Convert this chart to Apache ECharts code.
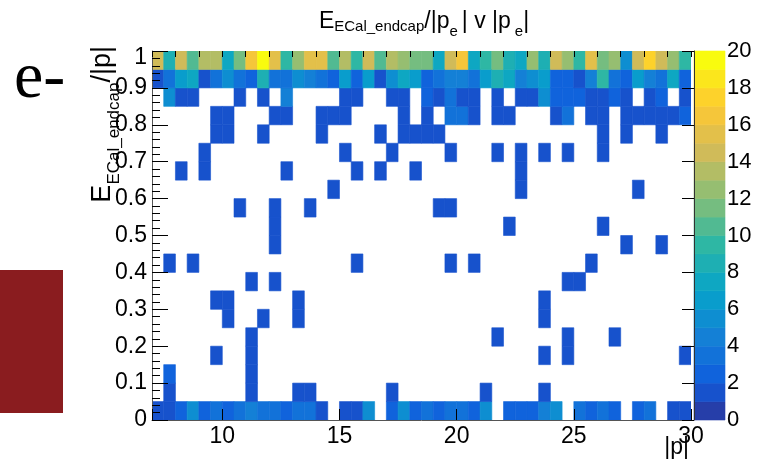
<!DOCTYPE html>
<html><head><meta charset="utf-8">
<script src="https://cdn.jsdelivr.net/npm/echarts@6/dist/echarts.min.js"></script>
<style>html,body{margin:0;padding:0;background:#fff}#c{width:764px;height:459px}</style>
</head><body><div id="c"></div>
<script>
// bin edges
const pEdges = [7,7.5,8,8.5,9,9.5,10,10.5,11,11.5,12,12.5,13,13.5,14,14.5,15,15.5,16,16.5,17,17.5,18,18.5,19,19.5,20,20.5,21,21.5,22,22.5,23,23.5,24,24.5,25,25.5,26,26.5,27,27.5,28,28.5,29,29.5,30];
const ratioEdges = [0,0.05,0.1,0.15,0.2,0.25,0.3,0.35,0.4,0.45,0.5,0.55,0.6,0.65,0.7,0.75,0.8,0.85,0.9,0.95,1];
// counts per |p| bin, one array per E/|p| row (named by lower edge)
const cnt000 = [1,1,2,5,2,3,2,3,4,3, 3,2,3,3,1,0,1,1,5,0, 2,5,2,3,2,3,3,2,5,0, 2,2,2,4,5,0,3,2,3,2, 0,2,3,0,1,1];
const cnt005 = [0,1,0,0,0,0,0,0,1,0, 0,0,1,1,0,0,0,0,0,0, 1,0,0,0,0,0,0,0,1,0, 0,0,0,1,0,0,0,0,0,0, 0,0,0,0,0,0];
const cnt010 = [0,2,0,0,0,0,0,0,1,0, 0,0,0,0,0,0,0,0,0,0, 0,0,0,0,0,0,0,0,0,0, 0,0,0,0,0,0,0,0,0,0, 0,0,0,0,0,0];
const cnt015 = [0,0,0,0,0,1,0,0,1,0, 0,0,0,0,0,0,0,0,0,0, 0,0,0,0,0,0,0,0,0,0, 0,0,0,1,0,1,0,0,0,0, 0,0,0,0,0,1];
const cnt020 = [0,0,0,0,0,0,0,0,1,0, 0,0,0,0,0,0,0,0,0,0, 0,0,0,0,0,0,0,0,0,1, 0,0,0,0,0,1,0,0,0,1, 0,0,0,0,0,0];
const cnt025 = [0,0,0,0,0,0,1,0,0,1, 0,0,1,0,0,0,0,0,0,0, 0,0,0,0,0,0,0,0,0,0, 0,0,0,1,0,0,0,0,0,0, 0,0,0,0,0,0];
const cnt030 = [0,0,0,0,0,1,1,0,0,0, 0,0,1,0,0,0,0,0,0,0, 0,0,0,0,0,0,0,0,0,0, 0,0,0,1,0,0,0,0,0,0, 0,0,0,0,0,0];
const cnt035 = [0,0,0,0,0,0,0,0,1,0, 1,0,0,0,0,0,0,0,0,0, 0,0,0,0,0,0,0,0,0,0, 0,0,0,0,0,1,1,0,0,0, 0,0,0,0,0,0];
const cnt040 = [0,1,0,1,0,0,0,0,0,0, 0,0,0,0,0,0,0,1,0,0, 0,0,0,0,0,1,0,1,0,0, 0,0,0,0,0,0,0,1,0,0, 0,0,0,0,0,0];
const cnt045 = [0,0,0,0,0,0,0,0,0,0, 1,0,0,0,0,0,0,0,0,0, 0,0,0,0,0,0,0,0,0,0, 0,0,0,0,0,0,0,0,0,0, 1,0,0,1,0,0];
const cnt050 = [0,0,0,0,0,0,0,0,0,0, 1,0,0,0,0,0,0,0,0,0, 0,0,0,0,0,0,0,0,0,0, 1,0,0,0,0,0,0,0,1,0, 0,0,0,0,0,0];
const cnt055 = [0,0,0,0,0,0,0,1,0,0, 1,0,0,1,0,0,0,0,0,0, 0,0,0,0,1,1,0,0,0,0, 0,0,0,0,0,0,0,0,0,0, 0,0,0,0,0,0];
const cnt060 = [0,0,0,0,0,0,0,0,0,0, 0,0,0,0,0,1,0,0,0,0, 0,0,0,0,0,0,0,0,0,0, 0,1,0,0,0,0,0,0,0,0, 0,1,0,0,0,0];
const cnt065 = [0,0,1,0,1,0,0,0,0,0, 0,1,0,0,0,0,0,1,0,1, 0,0,1,0,0,0,0,0,0,0, 0,1,0,0,0,0,0,0,0,0, 0,0,0,0,0,0];
const cnt070 = [0,0,0,0,1,0,0,0,0,0, 0,0,0,0,0,0,1,0,0,0, 1,0,0,0,0,1,0,0,0,1, 0,1,0,1,0,1,0,0,1,0, 0,0,0,0,0,0];
const cnt075 = [0,0,0,0,0,1,1,0,0,1, 0,0,0,0,1,0,0,0,0,1, 0,1,1,1,1,0,0,0,0,0, 0,0,0,0,0,0,0,0,1,0, 1,0,0,1,0,0];
const cnt080 = [0,0,0,0,0,1,1,0,0,0, 1,1,0,0,1,1,1,0,0,0, 0,1,0,1,0,3,3,1,0,1, 1,0,0,0,1,3,0,1,1,0, 1,1,1,1,1,2];
const cnt085 = [0,5,1,1,0,0,0,1,0,1, 0,4,0,0,0,0,1,1,0,0, 1,1,0,2,1,3,1,1,0,1, 0,1,1,5,2,2,2,1,1,2, 1,0,1,2,0,1];
const cnt090 = [1,3,6,7,1,3,5,3,2,8, 3,3,5,4,3,2,6,2,6,1, 5,7,6,2,3,4,4,3,6,8, 7,4,5,6,2,2,1,4,9,3, 2,6,4,3,7,2];
const cnt095 = [14,8,14,10,13,13,7,11,16,19, 15,9,12,15,15,10,13,9,14,10, 13,12,11,11,7,14,16,7,9,11, 8,7,12,8,14,12,9,15,11,12, 5,14,17,14,12,9];
const countRows = [cnt000,cnt005,cnt010,cnt015,cnt020,cnt025,cnt030,cnt035,cnt040,cnt045,
                   cnt050,cnt055,cnt060,cnt065,cnt070,cnt075,cnt080,cnt085,cnt090,cnt095];
// colour scale: 20 contour levels from 0 to 20
const zLevels = [0,1,2,3,4,5,6,7,8,9,10,11,12,13,14,15,16,17,18,19,20];
const levelColors = ['#263ea9','#1752cc','#1063dc','#1272d9','#1480d6','#0e8ed1','#099dcc','#0ea7c2','#1eafb3','#2eb7a4',
                     '#51ba92','#75bd80','#96be71','#b3bd65','#d0bb59','#e3c04a','#f5c63a','#fdd22b','#fbe61c','#f9fb0e'];

const heatData = [];
countRows.forEach((row, ri) => {
  row.forEach((c, ci) => {
    if (c > 0) heatData.push([pEdges[ci], pEdges[ci + 1], ratioEdges[ri], ratioEdges[ri + 1], c]);
  });
});
const barData = [];
for (let i = 0; i < zLevels.length - 1; i++) barData.push([0, 1, zLevels[i], zLevels[i + 1], zLevels[i]]);

const pieces = levelColors.map((col, i) => (i === levelColors.length - 1)
  ? { gte: zLevels[i], lte: zLevels[i + 1], color: col }
  : { gte: zLevels[i], lt: zLevels[i + 1], color: col });

function renderCell(params, api) {
  const a = api.coord([api.value(0), api.value(3)]);
  const b = api.coord([api.value(1), api.value(2)]);
  const color = api.visual('color');
  return {
    type: 'rect',
    shape: { x: a[0], y: a[1], width: b[0] - a[0], height: b[1] - a[1] },
    style: { fill: color, stroke: color, lineWidth: 0.6 }
  };
}

const FONT = 'Liberation Sans';
const chart = echarts.init(document.getElementById('c'), null, { renderer: 'canvas' });
chart.setOption({
  animation: false,
  backgroundColor: '#fff',
  grid: [
    { left: 152, top: 51, width: 539, height: 369, containLabel: false },
    { left: 694, top: 51, width: 31, height: 369, containLabel: false }
  ],
  xAxis: [
    { gridIndex: 0, type: 'value', min: 7, max: 30, splitNumber: 5, z: 5,
      axisLine: { show: true, lineStyle: { color: '#555', width: 1 } },
      axisTick: { show: true, inside: true, length: 11, lineStyle: { color: '#000' } },
      axisLabel: { fontSize: 23, fontFamily: FONT, color: '#000', margin: 5,
                   formatter: v => (v % 5 === 0 ? String(v) : '') },
      splitLine: { show: false } },
    { gridIndex: 0, type: 'value', min: 7, max: 30, interval: 1, z: 5,
      axisLine: { show: false },
      axisTick: { show: true, inside: true, length: 6, lineStyle: { color: '#000' } },
      axisLabel: { show: false }, splitLine: { show: false } },
    { gridIndex: 1, type: 'value', min: 0, max: 1, show: false }
  ],
  yAxis: [
    { gridIndex: 0, type: 'value', min: 0, max: 1, interval: 0.1, z: 5,
      axisLine: { show: true, lineStyle: { color: '#555', width: 1 } },
      axisTick: { show: true, inside: true, length: 16, lineStyle: { color: '#000' } },
      minorTick: { show: true, splitNumber: 5, length: 8, lineStyle: { color: '#000' } },
      axisLabel: { fontSize: 23, fontFamily: FONT, color: '#000', margin: 5,
                   formatter: v => (v === 1 ? '{top|1}' : String(v)),
                   rich: { top: { fontSize: 23, fontFamily: FONT, color: '#000', padding: [14, 0, 0, 0] } } },
      splitLine: { show: false } },
    { gridIndex: 1, type: 'value', min: 0, max: 20, interval: 2, position: 'right', z: 5,
      axisLine: { show: true, lineStyle: { color: '#333', width: 1 } },
      axisTick: { show: true, inside: true, length: 12, lineStyle: { color: '#000' } },
      axisLabel: { fontSize: 22, fontFamily: FONT, color: '#000', margin: 2 },
      splitLine: { show: false } }
  ],
  visualMap: [
    { type: 'piecewise', show: false, dimension: 4, seriesIndex: [0, 1], pieces: pieces }
  ],
  series: [
    { type: 'custom', xAxisIndex: 0, yAxisIndex: 0, renderItem: renderCell, data: heatData,
      encode: { x: [0, 1], y: [2, 3] }, z: 2, clip: true },
    { type: 'custom', xAxisIndex: 2, yAxisIndex: 1, renderItem: renderCell, data: barData,
      encode: { x: [0, 1], y: [2, 3] }, z: 2 }
  ],
  graphic: [
    { type: 'rect', shape: { x: 0, y: 270, width: 63, height: 143 }, style: { fill: '#8a1c1f' } },
    { type: 'text', x: 14, y: 80,
      style: { text: 'e-', fontSize: 66, fontFamily: 'Liberation Serif', fill: '#000', verticalAlign: 'middle', align: 'left' } },
    { type: 'text', x: 424, y: 22,
      style: {
        text: '{m|E}{s|ECal_endcap}{m|/|p}{e|e}{v|| v |p}{e|e}{m||}',
        align: 'center', verticalAlign: 'middle',
        rich: {
          m: { fontSize: 23, fontFamily: FONT, fill: '#000' },
          v: { fontSize: 23, fontFamily: FONT, fill: '#000', padding: [0, 4, 0, 4] },
          s: { fontSize: 15, fontFamily: FONT, fill: '#000', padding: [9, 0, 0, 0] },
          e: { fontSize: 15, fontFamily: FONT, fill: '#000', padding: [20, 0, 0, 0] }
        }
      } },
    { type: 'text', x: 103, y: 46, rotation: Math.PI / 2,
      style: {
        text: '{m|E}{s|ECal_endcap}{m|/|p|}',
        align: 'right', verticalAlign: 'middle',
        rich: {
          m: { fontSize: 27, fontFamily: FONT, fill: '#000' },
          s: { fontSize: 17, fontFamily: FONT, fill: '#000', padding: [22, 0, 0, 0] }
        }
      } },
    { type: 'text', x: 689, y: 448,
      style: { text: '|p|', fontSize: 23, fontFamily: FONT, fill: '#000', align: 'right', verticalAlign: 'middle' } }
  ]
});
</script></body></html>
